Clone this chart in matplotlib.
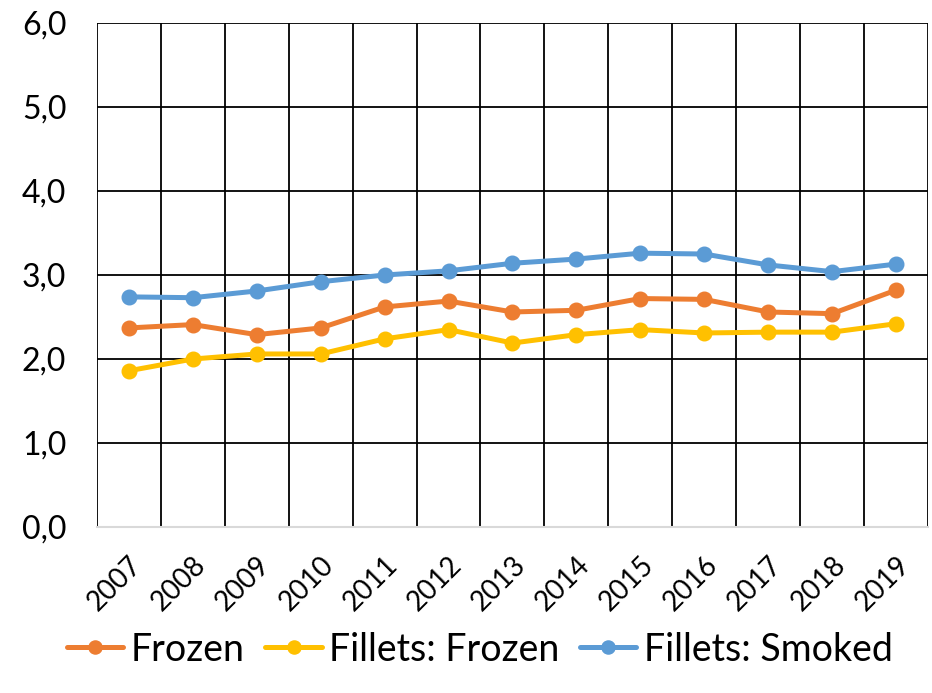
import matplotlib
matplotlib.use('Agg')
import matplotlib.pyplot as plt
import numpy as np

plt.rcParams['font.family'] = ['Lato', 'DejaVu Sans']

years = ['2007', '2008', '2009', '2010', '2011', '2012', '2013',
         '2014', '2015', '2016', '2017', '2018', '2019']

frozen = [2.37, 2.41, 2.29, 2.37, 2.62, 2.69, 2.56,
          2.58, 2.72, 2.71, 2.56, 2.54, 2.82]
fillets_frozen = [1.86, 2.00, 2.06, 2.06, 2.24, 2.35, 2.19,
                  2.29, 2.35, 2.31, 2.32, 2.32, 2.42]
fillets_smoked = [2.74, 2.73, 2.81, 2.92, 3.00, 3.05, 3.14,
                  3.19, 3.26, 3.25, 3.12, 3.04, 3.13]

series = [('Frozen', frozen, '#ED7D31'),
          ('Fillets: Frozen', fillets_frozen, '#FFC000'),
          ('Fillets: Smoked', fillets_smoked, '#5B9BD5')]

fig = plt.figure(figsize=(9.32, 6.93), dpi=100)
ax = fig.add_axes([0.104, 0.2395, 0.8917, 0.7273])

x = np.arange(len(years))
for name, vals, col in series:
    ax.plot(x, vals, color=col, lw=3.6, marker='o', markersize=10.5,
            label=name, solid_capstyle='round')

ax.set_ylim(0, 6)
ax.set_xlim(-0.5, len(years) - 0.5)
ax.set_yticks(np.arange(0, 6.1, 1))
ax.set_yticklabels([f'{v:.1f}'.replace('.', ',') for v in np.arange(0, 6.1, 1)],
                   fontsize=23)
ax.set_xticks(x)
ax.set_xticklabels(years, rotation=45, ha='right', rotation_mode='anchor',
                   fontsize=20)
ax.set_xticks(np.arange(-0.5, len(years), 1), minor=True)

ax.tick_params(axis='both', which='both', length=0)
ax.tick_params(axis='y', pad=22)
ax.tick_params(axis='x', pad=18)

ax.grid(axis='y', which='major', color='black', lw=1.3)
ax.grid(axis='x', which='minor', color='black', lw=1.3)
ax.set_axisbelow(True)

for s in ['top', 'right', 'left']:
    ax.spines[s].set_visible(False)
ax.spines['bottom'].set_color('#d9d9d9')
ax.spines['bottom'].set_linewidth(1.5)
ax.spines['bottom'].set_zorder(3)

fig.legend(loc='lower center', bbox_to_anchor=(0.515, -0.012), ncol=3,
           frameon=False, fontsize=27, handlelength=1.5, handletextpad=0.2,
           columnspacing=0.55, markerscale=0.9)

fig.savefig('out.png', dpi=100)
